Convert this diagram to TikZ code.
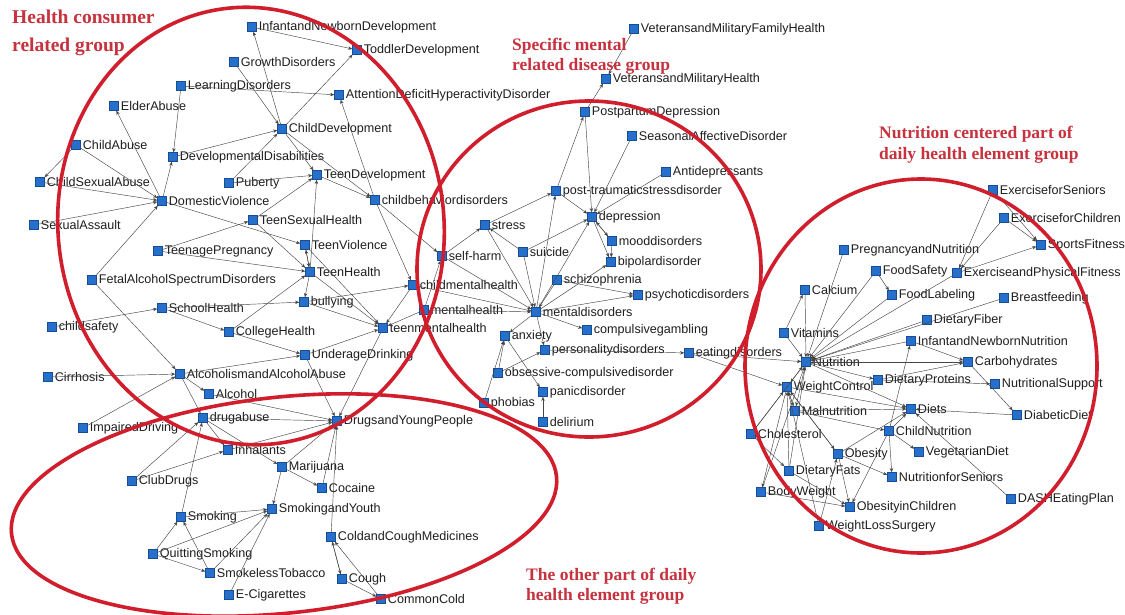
\documentclass[tikz,border=0pt]{standalone}
\usepackage{fontspec}
\setmainfont{Liberation Sans}
\newfontfamily\grpfont{Liberation Serif}
\usetikzlibrary{arrows.meta}
\definecolor{nblue}{RGB}{38,112,204}
\definecolor{nborder}{RGB}{22,78,150}
\definecolor{gred}{RGB}{208,30,44}
\definecolor{tred}{RGB}{198,50,62}
\definecolor{edgec}{RGB}{70,70,70}
\newcommand\gnode[4]{\node[nd,label={[lab]right:#4}] (#1) at (#2,#3) {};}
\begin{document}
\begin{tikzpicture}[x=1pt,y=-1pt,
  nd/.style={rectangle,fill=nblue,draw=nborder,line width=0.4pt,minimum size=9pt,inner sep=0pt},
  lab/.style={font=\fontsize{12.6}{14}\selectfont,text=black!88,inner sep=0pt,label distance=2pt},
  ed/.style={draw=edgec,line width=0.45pt,-{Stealth[length=4.2pt,width=3.4pt]}},
  grp/.style={draw=gred,line width=3.6pt},
  gtxt/.style={text=tred,font=\grpfont\bfseries\fontsize{18}{21}\selectfont,align=left,anchor=north west,inner sep=0pt}]
\useasboundingbox[fill=white] (0,0) rectangle (1125,615);
% ---------- health consumer group
\gnode{IND}{252}{27}{InfantandNewbornDevelopment}
\gnode{TD}{357}{50}{ToddlerDevelopment}
\gnode{GD}{234}{62}{GrowthDisorders}
\gnode{LD}{181}{86}{LearningDisorders}
\gnode{ADHD}{339}{95}{AttentionDeficitHyperactivityDisorder}
\gnode{EA}{114}{106}{ElderAbuse}
\gnode{CD}{282}{129}{ChildDevelopment}
\gnode{CA}{76}{145}{ChildAbuse}
\gnode{DD}{173}{157}{DevelopmentalDisabilities}
\gnode{CSA}{40}{182}{ChildSexualAbuse}
\gnode{PUB}{229}{183}{Puberty}
\gnode{TDV}{317}{175}{TeenDevelopment}
\gnode{DV}{162}{201}{DomesticViolence}
\gnode{CBD}{375}{200}{childbehaviordisorders}
\gnode{SA}{34}{225}{SexualAssault}
\gnode{TSH}{253}{220}{TeenSexualHealth}
\gnode{TP}{158}{251}{TeenagePregnancy}
\gnode{TV}{305}{245}{TeenViolence}
\gnode{TH}{310}{272}{TeenHealth}
\gnode{FAS}{92}{280}{FetalAlcoholSpectrumDisorders}
\gnode{SH}{162}{308}{SchoolHealth}
\gnode{BUL}{304}{302}{bullying}
\gnode{CMH}{413}{285}{childmentalhealth}
\gnode{CS}{52}{327}{childsafety}
\gnode{CH}{229}{332}{CollegeHealth}
\gnode{MH}{424}{310}{mentalhealth}
\gnode{TMH}{383}{328}{teenmentalhealth}
\gnode{UD}{305}{355}{UnderageDrinking}
\gnode{CIR}{48}{377}{Cirrhosis}
\gnode{AAA}{180}{374}{AlcoholismandAlcoholAbuse}
\gnode{ALC}{209}{394}{Alcohol}
% ---------- mental group
\gnode{VMFH}{634}{29}{VeteransandMilitaryFamilyHealth}
\gnode{VMH}{606}{79}{VeteransandMilitaryHealth}
\gnode{PPD}{585}{112}{PostpartumDepression}
\gnode{SAD}{632}{136}{SeasonalAffectiveDisorder}
\gnode{ANTI}{666}{172}{Antidepressants}
\gnode{PTSD}{556}{191}{post-traumaticstressdisorder}
\gnode{DEP}{592}{217}{depression}
\gnode{STR}{485}{225}{stress}
\gnode{MOOD}{612}{241}{mooddisorders}
\gnode{SUI}{523}{252}{suicide}
\gnode{SELF}{442}{256}{self-harm}
\gnode{BIP}{611}{262}{bipolardisorder}
\gnode{SCH}{557}{280}{schizophrenia}
\gnode{PSY}{638}{295}{psychoticdisorders}
\gnode{MD}{536}{312}{mentaldisorders}
\gnode{CG}{587}{330}{compulsivegambling}
\gnode{ANX}{505}{336}{anxiety}
\gnode{PD}{545}{350}{personalitydisorders}
\gnode{ED}{689}{353}{eatingdisorders}
\gnode{OCD}{498}{373}{obsessive-compulsivedisorder}
\gnode{PAN}{543}{392}{panicdisorder}
\gnode{PHO}{484}{403}{phobias}
\gnode{DEL}{543}{422}{delirium}
% ---------- nutrition group
\gnode{EFS}{993}{190}{ExerciseforSeniors}
\gnode{EFC}{1004}{218}{ExerciseforChildren}
\gnode{SF}{1041}{245}{SportsFitness}
\gnode{PN}{844}{250}{PregnancyandNutrition}
\gnode{FS}{876}{271}{FoodSafety}
\gnode{EPF}{957}{273}{ExerciseandPhysicalFitness}
\gnode{FL}{892}{295}{FoodLabeling}
\gnode{BF}{1004}{298}{Breastfeeding}
\gnode{CAL}{805}{290}{Calcium}
\gnode{DF}{927}{320}{DietaryFiber}
\gnode{VIT}{784}{333}{Vitamins}
\gnode{INN}{911}{341}{InfantandNewbornNutrition}
\gnode{NUT}{806}{362}{Nutrition}
\gnode{CARB}{968}{362}{Carbohydrates}
\gnode{WC}{787}{387}{WeightControl}
\gnode{DP}{878}{380}{DietaryProteins}
\gnode{NS}{995}{384}{NutritionalSupport}
\gnode{MAL}{795}{411}{Malnutrition}
\gnode{DIETS}{911}{409}{Diets}
\gnode{CHOL}{751}{434}{Cholesterol}
\gnode{CN}{889}{431}{ChildNutrition}
\gnode{DDIET}{1017}{415}{DiabeticDiet}
\gnode{OB}{838}{454}{Obesity}
\gnode{VD}{919}{452}{VegetarianDiet}
\gnode{DFATS}{789}{471}{DietaryFats}
\gnode{NFS}{892}{477}{NutritionforSeniors}
\gnode{BW}{761}{492}{BodyWeight}
\gnode{DASH}{1011}{499}{DASHEatingPlan}
\gnode{OIC}{850}{507}{ObesityinChildren}
\gnode{WLS}{819}{526}{WeightLossSurgery}
% ---------- other daily health group
\gnode{DA}{203}{418}{drugabuse}
\gnode{ID}{83}{428}{ImpairedDriving}
\gnode{INH}{228}{450}{Inhalants}
\gnode{DYP}{337}{421}{DrugsandYoungPeople}
\gnode{MAR}{282}{467}{Marijuana}
\gnode{CLUB}{132}{481}{ClubDrugs}
\gnode{COC}{322}{488}{Cocaine}
\gnode{SMK}{181}{517}{Smoking}
\gnode{SY}{272}{509}{SmokingandYouth}
\gnode{CCM}{331}{537}{ColdandCoughMedicines}
\gnode{QS}{153}{554}{QuittingSmoking}
\gnode{ST}{210}{573}{SmokelessTobacco}
\gnode{COUGH}{342}{579}{Cough}
\gnode{EC}{229}{595}{E-Cigarettes}
\gnode{CC}{381}{599}{CommonCold}
% ---------- edges
\foreach \a/\b in {IND/TD, CD/IND, GD/CD, LD/ADHD, LD/DD, CD/TD, CBD/ADHD, DV/EA, CA/DV, CA/CSA,
  CSA/DV, SA/DV, DD/CD, DV/DD, FAS/DV, CD/TDV, CD/CBD, PUB/TDV, PUB/CD, TSH/TDV, TSH/TH, TP/TSH, TP/TH,
  DV/TV, TV/TH, TH/TV, TH/TDV, TH/BUL, CH/TH, TH/TMH, BUL/TMH, SH/BUL, SH/CH, CS/SH, BUL/CMH,
  CBD/CMH, TDV/CBD, CBD/SELF, TV/TMH, CMH/TMH, MH/TMH, UD/TMH, CH/UD, AAA/UD, CIR/AAA, FAS/AAA,
  AAA/ALC, ID/AAA, AAA/DA, TMH/DYP, ALC/DYP, UD/DYP}
  \draw[ed] (\a) -- (\b);
\foreach \a/\b in {VMFH/VMH, PPD/VMH, PPD/DEP, PTSD/PPD, SAD/DEP, ANTI/DEP, PTSD/DEP, STR/PTSD,
  SUI/DEP, SUI/STR, SELF/STR, SELF/MD, MH/SELF, DEP/MOOD, MOOD/DEP, DEP/BIP, MOOD/BIP, MD/DEP,
  SCH/MD, SCH/PSY, MD/PSY, MD/CG, STR/MD, SUI/MD, CMH/MD, MH/MD, MD/ANX, MD/PD, PD/ED, OCD/ANX,
  PHO/ANX, OCD/PD, ANX/PAN, DEL/PAN, MD/BIP, MD/PTSD, ED/NUT, ED/WC}
  \draw[ed] (\a) -- (\b);
\foreach \a/\b in {EFS/EPF, EFS/SF, EFC/SF, EFC/EPF, EPF/SF, PN/NUT, CAL/NUT, VIT/CAL, VIT/NUT,
  FS/FL, FS/NUT, FL/NUT, EPF/NUT, BF/NUT, DF/NUT, INN/NUT, NUT/CARB, INN/CARB, DP/CARB, CARB/DDIET,
  DP/NS, NUT/DP, NUT/DIETS, WC/DIETS, DDIET/DIETS, CN/INN, CN/DIETS, CN/VD, CN/NFS, DASH/DIETS,
  MAL/CN, NUT/MAL, NUT/WC, MAL/WC, WC/MAL, OB/WC, CHOL/WC, CHOL/NUT, WC/BW, DFATS/WC, DFATS/OIC,
  BW/OIC, BW/NUT, OB/OIC, OB/NFS, CN/OIC, WLS/WC, WLS/OB, WC/OB, MAL/DIETS, OB/DIETS, DFATS/NUT,
  CHOL/DFATS}
  \draw[ed] (\a) -- (\b);
\foreach \a/\b in {DA/INH, DA/MAR, DA/DYP, INH/DYP, CLUB/DA, CLUB/INH, SMK/DA, SMK/SY, QS/SMK,
  QS/SY, QS/ST, ST/SMK, ST/SY, EC/SY, MAR/SY, MAR/DYP, MAR/COC, COC/DYP, CCM/DYP, COUGH/CCM,
  CCM/COUGH, CC/CCM, COUGH/CC}
  \draw[ed] (\a) -- (\b);
% ---------- group outlines
\draw[grp] (251,226) ellipse[x radius=193, y radius=219, rotate=6];
\draw[grp] (589,269) ellipse[x radius=172, y radius=168];
\draw[grp] (921,366) ellipse[x radius=176, y radius=187];
\draw[grp] (284,505) ellipse[x radius=274, y radius=108, rotate=6];
% ---------- group titles
\node[gtxt,font=\grpfont\bfseries\fontsize{19.5}{28}\selectfont] (t1) at (12,10) {Health consumer\\related group};
\node[gtxt,font=\grpfont\bfseries\fontsize{17.5}{20}\selectfont] (t2) at (512,38) {Specific mental\\related disease group};
\node[gtxt,font=\grpfont\bfseries\fontsize{17.5}{21}\selectfont] (t3) at (879,126) {Nutrition centered part of\\daily health element group};
\node[gtxt,font=\grpfont\bfseries\fontsize{17.5}{20}\selectfont] (t4) at (526,568) {The other part of daily\\health element group};
\end{tikzpicture}
\end{document}
